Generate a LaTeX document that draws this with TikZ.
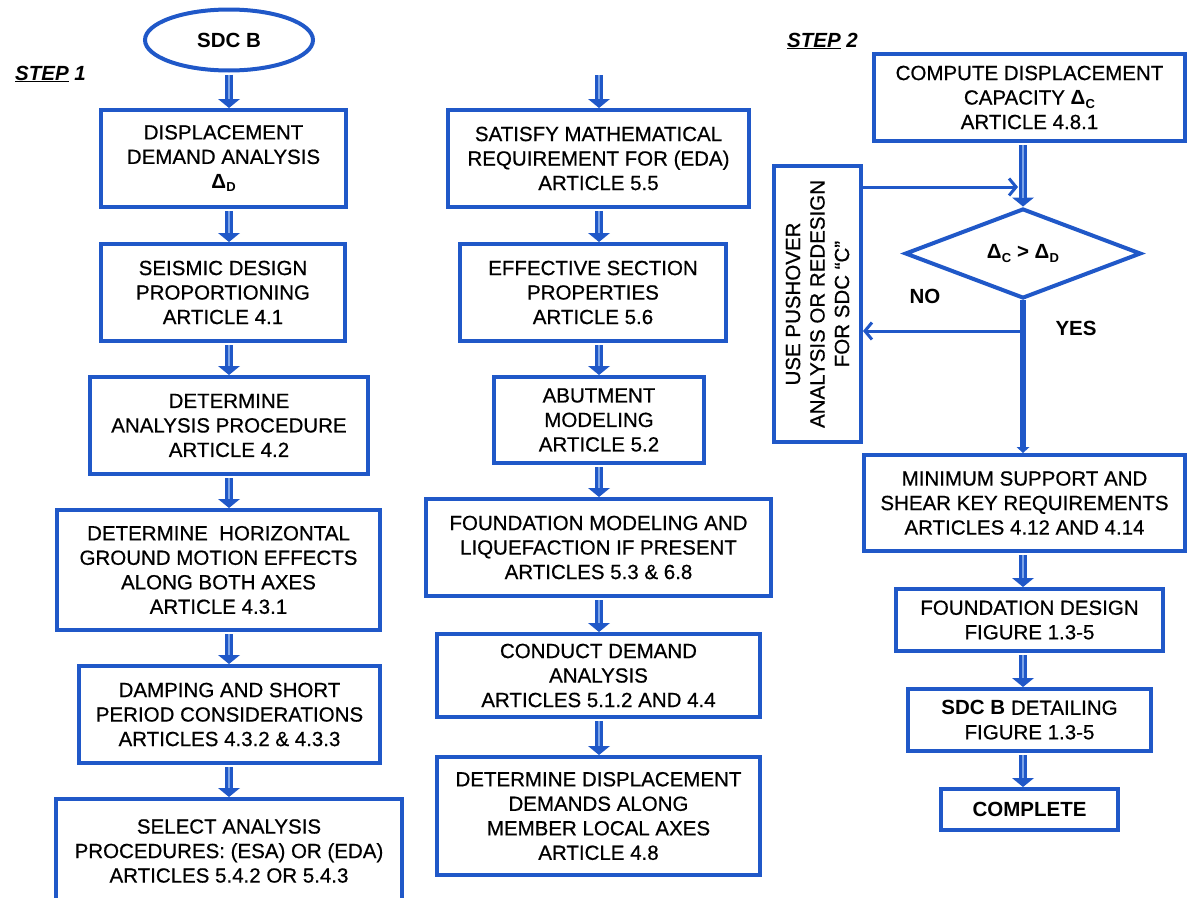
\documentclass[tikz,border=0pt]{standalone}
\usepackage{fontspec}
\setmainfont{Liberation Sans}[UprightFeatures={FakeBold=0.6}]
\usetikzlibrary{arrows.meta,shapes.geometric,calc}
\definecolor{fblue}{RGB}{32,88,200}
\definecolor{flight}{RGB}{125,165,232}
\newcommand\fs{\fontsize{20.5}{24.5}\selectfont}
\newcommand\dsub[1]{{\bfseries Δ\kern0.3pt\raisebox{-3.5pt}{\fontsize{13}{13}\selectfont\bfseries #1}}}
\tikzset{
  box/.style={draw=fblue, line width=4pt, align=center, inner sep=0pt, font=\fs, fill=white},
  flow/.style={draw=fblue, line width=8.5pt, shorten <=2pt, -{Triangle[length=9pt,width=22pt,line width=0pt]}},
  flowin/.style={draw=flight, line width=2.6pt, shorten <=2pt, shorten >=9pt},
  thinarr/.style={draw=fblue, line width=3pt, -{Straight Barb[length=7pt,width=17pt]}},
  lbl/.style={font=\fs\bfseries, inner sep=0pt},
}
\newcommand\farr[2]{\draw[flow] (#1) -- (#2); \draw[flowin] (#1) -- (#2);}
\begin{document}
\begin{tikzpicture}[x=1pt,y=-1pt]
\useasboundingbox (0,0) rectangle (1188,897);
% headings
\node[lbl, anchor=base west] (st1) at (15,80) {\itshape\underline{STEP} 1};
\node[lbl, anchor=base west] (st2) at (787,47) {\itshape\underline{STEP} 2};
% left column
\node[draw=fblue, line width=4pt, ellipse, inner sep=0pt, minimum width=168, minimum height=61, font=\fs\bfseries] (SDC) at (229,40) {SDC B};
\node[box, minimum width=245, minimum height=97] (L1) at (223.5,158.5) {DISPLACEMENT\\DEMAND ANALYSIS\\\dsub{D}};
\node[box, minimum width=244, minimum height=97] (L2) at (223,292.5) {SEISMIC DESIGN\\PROPORTIONING\\ARTICLE 4.1};
\node[box, minimum width=278, minimum height=97] (L3) at (229,425.5) {DETERMINE\\ANALYSIS PROCEDURE\\ARTICLE 4.2};
\node[box, minimum width=323, minimum height=120] (L4) at (218.5,570) {DETERMINE\ \ HORIZONTAL\\GROUND MOTION EFFECTS\\ALONG BOTH AXES\\ARTICLE 4.3.1};
\node[box, minimum width=301, minimum height=97] (L5) at (229.5,714.5) {DAMPING AND SHORT\\PERIOD CONSIDERATIONS\\ARTICLES 4.3.2 \& 4.3.3};
\node[box, minimum width=346, minimum height=104] (L6) at (229,851) {SELECT ANALYSIS\\PROCEDURES: (ESA) OR (EDA)\\ARTICLES 5.4.2 OR 5.4.3};
\farr{SDC.south}{L1.north -| SDC.south}
\farr{L1.south -| SDC.south}{L2.north -| SDC.south}
\farr{L2.south -| SDC.south}{L3.north -| SDC.south}
\farr{L3.south -| SDC.south}{L4.north -| SDC.south}
\farr{L4.south -| SDC.south}{L5.north -| SDC.south}
\farr{L5.south -| SDC.south}{L6.north -| SDC.south}
% middle column
\coordinate (mtop) at (599,73);
\node[box, minimum width=301, minimum height=97] (M1) at (598.5,158.5) {SATISFY MATHEMATICAL\\REQUIREMENT FOR (EDA)\\ARTICLE 5.5};
\node[box, minimum width=266, minimum height=97] (M2) at (593,292.5) {EFFECTIVE SECTION\\PROPERTIES\\ARTICLE 5.6};
\node[box, minimum width=210, minimum height=86] (M3) at (599,420) {ABUTMENT\\MODELING\\ARTICLE 5.2};
\node[box, minimum width=345, minimum height=97] (M4) at (598.5,547.5) {FOUNDATION MODELING AND\\LIQUEFACTION IF PRESENT\\ARTICLES 5.3 \& 6.8};
\node[box, minimum width=323, minimum height=83] (M5) at (598.5,675.5) {CONDUCT DEMAND\\ANALYSIS\\ARTICLES 5.1.2 AND 4.4};
\node[box, minimum width=323, minimum height=118] (M6) at (598.5,816) {DETERMINE DISPLACEMENT\\DEMANDS ALONG\\MEMBER LOCAL AXES\\ARTICLE 4.8};
\farr{mtop}{M1.north -| mtop}
\farr{M1.south -| mtop}{M2.north -| mtop}
\farr{M2.south -| mtop}{M3.north -| mtop}
\farr{M3.south -| mtop}{M4.north -| mtop}
\farr{M4.south -| mtop}{M5.north -| mtop}
\farr{M5.south -| mtop}{M6.north -| mtop}
% right column
\node[box, minimum width=311, minimum height=87] (R1) at (1029.5,97.5) {COMPUTE DISPLACEMENT\\CAPACITY \dsub{C}\\ARTICLE 4.8.1};
\node[draw=fblue, line width=4pt, diamond, inner sep=0pt, minimum width=236, minimum height=85, font=\fs\bfseries] (D) at (1023,253.5) {\dsub{C} > \dsub{D}};
\node[box, minimum width=87, minimum height=276] (P) at (817.5,304) {};
\node[rotate=90, font=\fs, align=center, inner sep=0pt] (Pt) at (P.center) {USE PUSHOVER\\ANALYSIS OR REDESIGN\\FOR SDC “C”};
\node[box, minimum width=321, minimum height=96] (R2) at (1024.5,503) {MINIMUM SUPPORT AND\\SHEAR KEY REQUIREMENTS\\ARTICLES 4.12 AND 4.14};
\node[box, minimum width=267, minimum height=62] (R3) at (1029.5,620) {FOUNDATION DESIGN\\FIGURE 1.3-5};
\node[box, minimum width=243, minimum height=62] (R4) at (1029.5,720) {\textbf{SDC B} DETAILING\\FIGURE 1.3-5};
\node[box, minimum width=177, minimum height=41, font=\fs\bfseries] (R5) at (1029.5,809.5) {COMPLETE};
\farr{R1.south -| D.north}{D.north}
\farr{R2.south -| D.north}{R3.north -| D.north}
\farr{R3.south -| D.north}{R4.north -| D.north}
\farr{R4.south -| D.north}{R5.north -| D.north}
\coordinate (y187) at (0,187);
\coordinate (y331) at (0,331);
\draw[thinarr, shorten >=5pt] (P.east |- y187) -- (D.north |- y187);
\draw[thinarr, shorten <=-1pt] (D.south |- y331) -- (P.east |- y331);
\draw[draw=fblue, line width=6.5pt, -{Triangle[length=6pt,width=13pt,line width=0pt]}] (D.south) -- (R2.north -| D.south);
\node[lbl] (no) at (925,296) {NO};
\node[lbl] (yes) at (1076,328) {YES};
\end{tikzpicture}
\end{document}
